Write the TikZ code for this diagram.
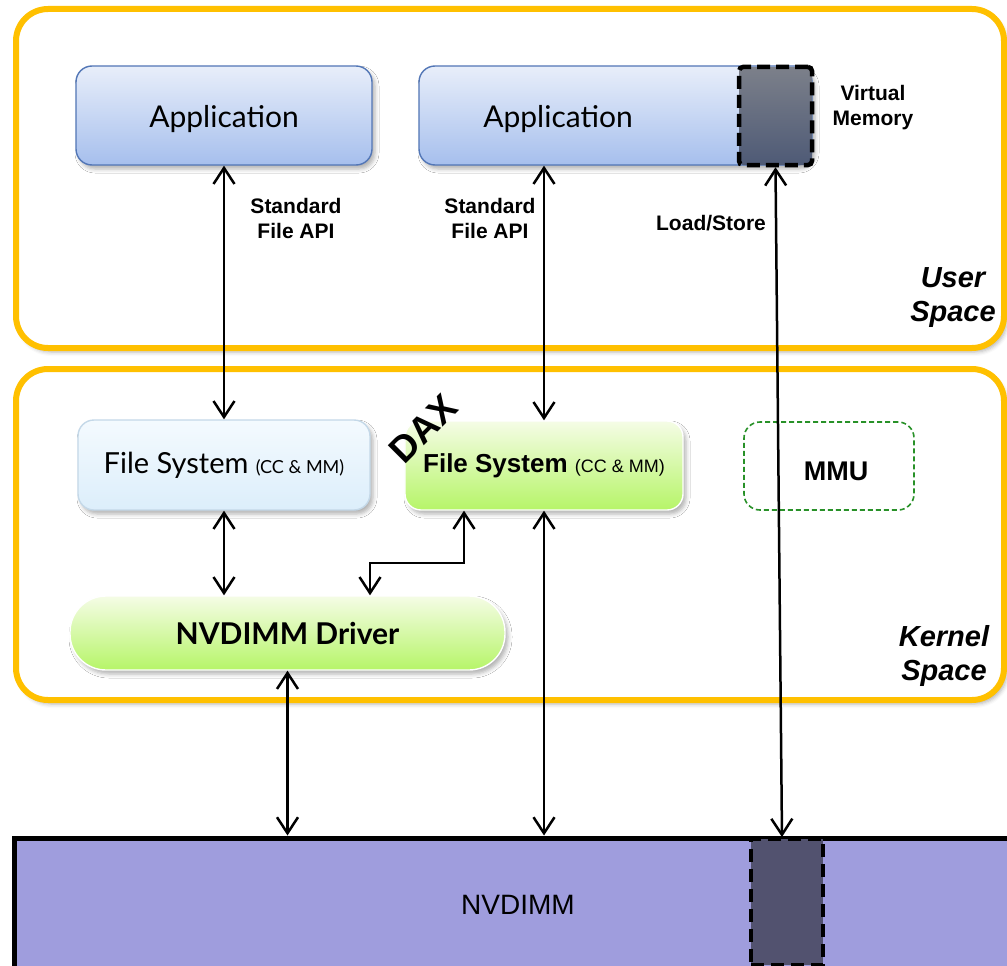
\documentclass[tikz,border=0pt]{standalone}
\usepackage{fontspec}
\setmainfont{Liberation Sans}
\newfontfamily\gill{Lato}
\usetikzlibrary{arrows.meta,shadows.blur,calc}

\definecolor{orng}{RGB}{255,192,0}
\definecolor{apptop}{RGB}{232,238,250}
\definecolor{appbot}{RGB}{166,191,237}
\definecolor{appedge}{RGB}{82,118,182}
\definecolor{vmtop}{RGB}{124,128,138}
\definecolor{vmbot}{RGB}{78,90,118}
\definecolor{fstop}{RGB}{244,250,254}
\definecolor{fsbot}{RGB}{220,238,251}
\definecolor{fsedge}{RGB}{196,216,232}
\definecolor{grtop}{RGB}{245,252,230}
\definecolor{grbot}{RGB}{182,245,104}
\definecolor{mmugreen}{RGB}{40,145,40}
\definecolor{nvfill}{RGB}{159,157,221}
\definecolor{nvdark}{RGB}{82,82,111}

\tikzset{
  softshadow/.style={blur shadow={shadow xshift=3pt, shadow yshift=-4pt,
      shadow opacity=30, shadow blur radius=4pt}},
  region/.style={draw=orng, line width=6pt, rounded corners=32pt, fill=white,
      softshadow},
  appbox/.style={draw=appedge, line width=1.4pt, rounded corners=16pt,
      top color=apptop, bottom color=appbot, softshadow},
  vmbox/.style={draw=black, line width=4.5pt, dash pattern=on 13pt off 6pt,
      rounded corners=4pt, top color=vmtop, bottom color=vmbot},
  fsbox/.style={draw=fsedge, line width=1.4pt, rounded corners=16pt,
      top color=fstop, bottom color=fsbot, softshadow},
  greenbox/.style={draw=white, line width=1.4pt, rounded corners=16pt,
      top color=grtop, bottom color=grbot, softshadow},
  mmubox/.style={draw=mmugreen, line width=1.6pt, dash pattern=on 5pt off 3pt,
      rounded corners=16pt},
  nvbar/.style={draw=black, line width=5pt, fill=nvfill},
  nvregion/.style={draw=black, line width=4pt, dash pattern=on 13pt off 7pt,
      fill=nvdark},
  link/.style={line width=2.5pt,
      arrows={Straight Barb[length=16pt,width=21pt]-Straight Barb[length=16pt,width=21pt]}},
  humanist/.style={font=\gill\fontsize{30}{34}\selectfont},
  lbl/.style={font=\bfseries\fontsize{21}{25}\selectfont, align=center},
  spacelbl/.style={font=\bfseries\itshape\fontsize{29}{34}\selectfont, align=center},
}

\begin{document}
\begin{tikzpicture}[x=1pt,y=-1pt]
\useasboundingbox (0,0) rectangle (1007,966);

% user and kernel regions
\node[region, minimum width=988, minimum height=339] (user) at (510,178.5) {};
\node[region, minimum width=988, minimum height=331] (kernel) at (510,534.5) {};

% NVDIMM bar and the mapped region
\node[nvbar, minimum width=1008, minimum height=140] (nv) at (518,908) {};
\node[font=\fontsize{28}{32}\selectfont] (nvtext) at (518,905) {NVDIMM};
\node[nvregion, minimum width=72, minimum height=126] (nvd) at (787,902) {};

% user space boxes
\node[appbox, minimum width=296, minimum height=99] (app1) at (224,115.5) {};
\node[humanist] (app1text) at (224,119) {Application};
\node[appbox, minimum width=393, minimum height=99] (app2) at (615.5,115.5) {};
\node[humanist] (app2text) at (558,119) {Application};
\node[vmbox, minimum width=73, minimum height=98] (vm) at (775.5,116) {};
\node[lbl] (vmtext) at (873,108) {Virtual\\Memory};

% kernel space boxes
\node[fsbox, font=\gill, minimum width=292, minimum height=90] (fs1) at (224,465)
  {\fontsize{29}{32}\selectfont File System \fontsize{18}{20}\selectfont(CC \& MM)};
\node[greenbox, minimum width=278, minimum height=89] (fs2) at (544,465.5)
  {\raisebox{-5pt}{\fontsize{26}{30}\selectfont\bfseries File System \mdseries\fontsize{18}{20}\selectfont(CC \& MM)}};
\node[mmubox, minimum width=170, minimum height=88] (mmu) at (829,466) {};
\node[font=\bfseries\fontsize{27}{30}\selectfont] (mmutext) at (836,471) {MMU};
\node[greenbox, rounded corners=36pt, minimum width=435, minimum height=74] (drv) at (287.5,633)
  {\raisebox{-5pt}{\gill\bfseries\fontsize{30}{33}\selectfont NVDIMM Driver}};
\node[font=\bfseries\fontsize{37}{40}\selectfont, rotate=45, inner sep=0pt] (dax) at (423,429) {DAX};

% labels
\node[lbl] (api1) at (296,218) {Standard\\File API};
\node[lbl] (api2) at (490,218) {Standard\\File API};
\node[lbl] (ls) at (711,223) {Load/Store};
\node[spacelbl] (us) at (953,298) {User\\Space};
\node[spacelbl] (ks) at (944,656) {Kernel\\Space};

% connectors
\draw[link] (app1.south) -- (fs1.north);
\draw[link] (fs2.north |- app2.south) -- (fs2.north);
\draw[link] (fs1.south) -- (fs1.south |- drv.north);
\coordinate (k1) at (370,563);
\coordinate (k2) at (464,563);
\draw[link] (drv.north -| k1) -- (k1) -- (k2) -- (fs2.south -| k2);
\draw[link] (drv.south) -- (drv.south |- nv.north);
\draw[link] (fs2.south) -- (fs2.south |- nv.north);
\draw[link] (vm.south) -- ([xshift=-5pt]nvd.north);
\end{tikzpicture}
\end{document}
